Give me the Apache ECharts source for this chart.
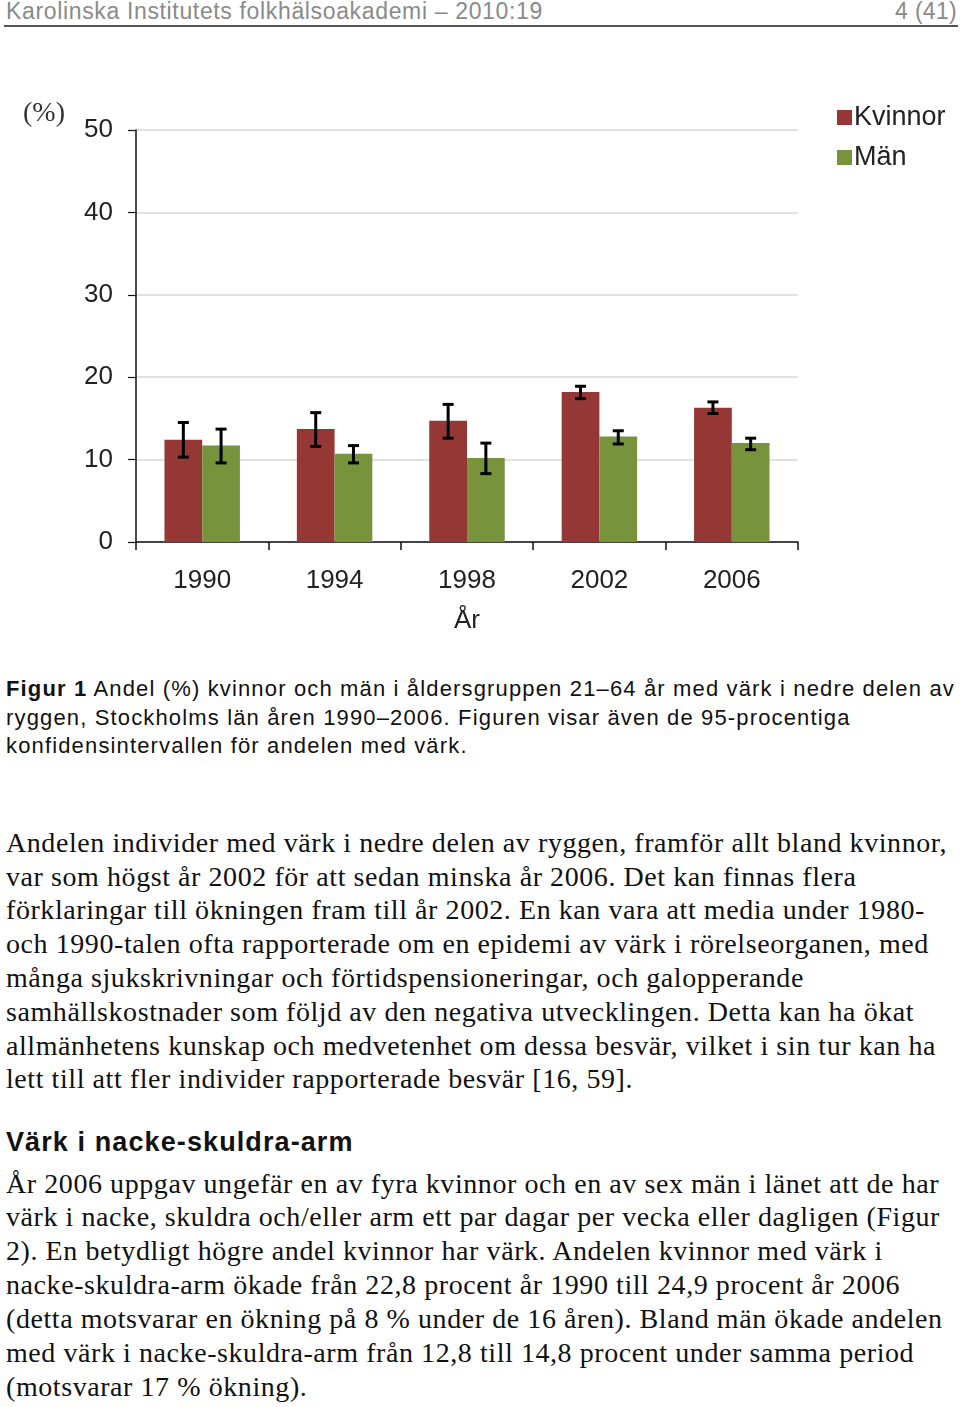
<!DOCTYPE html>
<html><head><meta charset="utf-8">
<script src="https://cdn.jsdelivr.net/npm/echarts@6/dist/echarts.min.js"></script>
<style>
html,body{margin:0;padding:0;background:#fff;width:960px;height:1407px;overflow:hidden;position:relative}
#chart{position:absolute;left:0;top:0;width:960px;height:660px}
.hdr{position:absolute;top:-2px;font-family:"Liberation Sans",Arial,sans-serif;font-size:23px;letter-spacing:0.65px;color:#8a8a8a;white-space:nowrap}
.rule{position:absolute;left:4px;top:25px;width:954px;height:2px;background:#555}
.cap{position:absolute;left:6px;font-family:"Liberation Sans",Arial,sans-serif;font-size:22px;letter-spacing:1.15px;color:#111;white-space:nowrap}
.body{position:absolute;left:6px;font-family:"Liberation Serif","Times New Roman",serif;font-size:28px;letter-spacing:0.57px;color:#111;white-space:nowrap}
.h2{position:absolute;left:6px;font-family:"Liberation Sans",Arial,sans-serif;font-size:27px;letter-spacing:1.1px;font-weight:bold;color:#111;white-space:nowrap}
</style></head>
<body>
<div class="hdr" style="left:6px">Karolinska Institutets folkhälsoakademi – 2010:19</div>
<div class="hdr" style="right:3px;letter-spacing:0.3px">4 (41)</div>
<div class="rule"></div>
<div id="chart"></div>
<div class="cap" style="top:676px"><b>Figur 1</b> Andel (%) kvinnor och män i åldersgruppen 21–64 år med värk i nedre delen av</div>
<div class="cap" style="top:705px">ryggen, Stockholms län åren 1990–2006. Figuren visar även de 95-procentiga</div>
<div class="cap" style="top:733px">konfidensintervallen för andelen med värk.</div>

<div class="body" style="top:827px">Andelen individer med värk i nedre delen av ryggen, framför allt bland kvinnor,</div>
<div class="body" style="top:861px">var som högst år 2002 för att sedan minska år 2006. Det kan finnas flera</div>
<div class="body" style="top:894px">förklaringar till ökningen fram till år 2002. En kan vara att media under 1980-</div>
<div class="body" style="top:928px">och 1990-talen ofta rapporterade om en epidemi av värk i rörelseorganen, med</div>
<div class="body" style="top:962px">många sjukskrivningar och förtidspensioneringar, och galopperande</div>
<div class="body" style="top:996px">samhällskostnader som följd av den negativa utvecklingen. Detta kan ha ökat</div>
<div class="body" style="top:1030px">allmänhetens kunskap och medvetenhet om dessa besvär, vilket i sin tur kan ha</div>
<div class="body" style="top:1063px">lett till att fler individer rapporterade besvär [16, 59].</div>

<div class="h2" style="top:1127px">Värk i nacke-skuldra-arm</div>
<div class="body" style="top:1168px">År 2006 uppgav ungefär en av fyra kvinnor och en av sex män i länet att de har</div>
<div class="body" style="top:1201px">värk i nacke, skuldra och/eller arm ett par dagar per vecka eller dagligen (Figur</div>
<div class="body" style="top:1235px">2). En betydligt högre andel kvinnor har värk. Andelen kvinnor med värk i</div>
<div class="body" style="top:1269px">nacke-skuldra-arm ökade från 22,8 procent år 1990 till 24,9 procent år 2006</div>
<div class="body" style="top:1303px">(detta motsvarar en ökning på 8 % under de 16 åren). Bland män ökade andelen</div>
<div class="body" style="top:1337px">med värk i nacke-skuldra-arm från 12,8 till 14,8 procent under samma period</div>
<div class="body" style="top:1371px">(motsvarar 17 % ökning).</div>

<script>
var years = ['1990','1994','1998','2002','2006'];
var kvinnor = [12.4, 13.7, 14.7, 18.2, 16.3];
var kvinnorLow = [10.3, 11.6, 12.6, 17.4, 15.6];
var kvinnorHigh = [14.5, 15.7, 16.7, 18.9, 17.0];
var man = [11.7, 10.7, 10.2, 12.8, 12.0];
var manLow = [9.6, 9.6, 8.3, 11.9, 11.2];
var manHigh = [13.7, 11.7, 12.0, 13.5, 12.6];
var yTicks = [0, 10, 20, 30, 40, 50];

var colK = '#953735', colM = '#77933c';
var catGap = 0.43;

function errData(lo, hi){ return lo.map(function(v,i){ return [i, v, hi[i]]; }); }
function errSeries(name, lo, hi, side){
  return {
    type:'custom', name:name+' CI', silent:true, z:10,
    data: errData(lo, hi),
    renderItem: function(params, api){
      var bw = api.size([1,0])[0]*(1-catGap)/2;
      var p1 = api.coord([api.value(0), api.value(1)]);
      var p2 = api.coord([api.value(0), api.value(2)]);
      var x = p1[0] + side*bw/2;
      var cw = 5.5;
      var st = {stroke:'#000', lineWidth:3};
      return {type:'group', children:[
        {type:'line', shape:{x1:x,y1:p1[1],x2:x,y2:p2[1]}, style:st},
        {type:'line', shape:{x1:x-cw,y1:p1[1],x2:x+cw,y2:p1[1]}, style:st},
        {type:'line', shape:{x1:x-cw,y1:p2[1],x2:x+cw,y2:p2[1]}, style:st}
      ]};
    }
  };
}

var chart = echarts.init(document.getElementById('chart'), null, {renderer:'canvas'});
chart.setOption({
  animation:false,
  textStyle:{fontFamily:'"Liberation Sans", Arial, sans-serif'},
  grid:{left:136, right:162, top:130, bottom:118, containLabel:false},
  legend:{
    orient:'vertical', left:832, top:99, itemWidth:15, itemHeight:15, itemGap:13,
    icon:'rect', data:['Kvinnor','Män'],
    textStyle:{fontSize:27, color:'#222', padding:[0,0,0,-3]}
  },
  graphic:[{type:'text', left:23, top:100, style:{text:'(%)', fontSize:28, fill:'#333', fontFamily:'"Liberation Serif", "Times New Roman", serif'}}],
  xAxis:{
    type:'category', data:years,
    name:'År', nameLocation:'middle', nameGap:66,
    nameTextStyle:{fontSize:26, color:'#222'},
    axisLine:{lineStyle:{color:'#111', width:1.5}},
    axisTick:{show:true, interval:0, length:8, lineStyle:{color:'#111', width:1.5}},
    axisLabel:{fontSize:26, color:'#222', margin:26}
  },
  yAxis:{
    type:'value', min:yTicks[0], max:yTicks[yTicks.length-1], interval:10,
    axisLine:{show:true, lineStyle:{color:'#111', width:1.5}},
    axisTick:{show:true, length:8, lineStyle:{color:'#111', width:1.2}},
    axisLabel:{fontSize:26, color:'#222', margin:23},
    splitLine:{show:true, lineStyle:{color:'#e2e2e2', width:2}}
  },
  series:[
    {name:'Kvinnor', type:'bar', data:kvinnor, itemStyle:{color:colK}, barGap:'0%', barCategoryGap:(catGap*100)+'%'},
    {name:'Män', type:'bar', data:man, itemStyle:{color:colM}, barGap:'0%', barCategoryGap:(catGap*100)+'%'},
    errSeries('Kvinnor', kvinnorLow, kvinnorHigh, -1),
    errSeries('Män', manLow, manHigh, 1)
  ]
});
</script>
</body></html>
